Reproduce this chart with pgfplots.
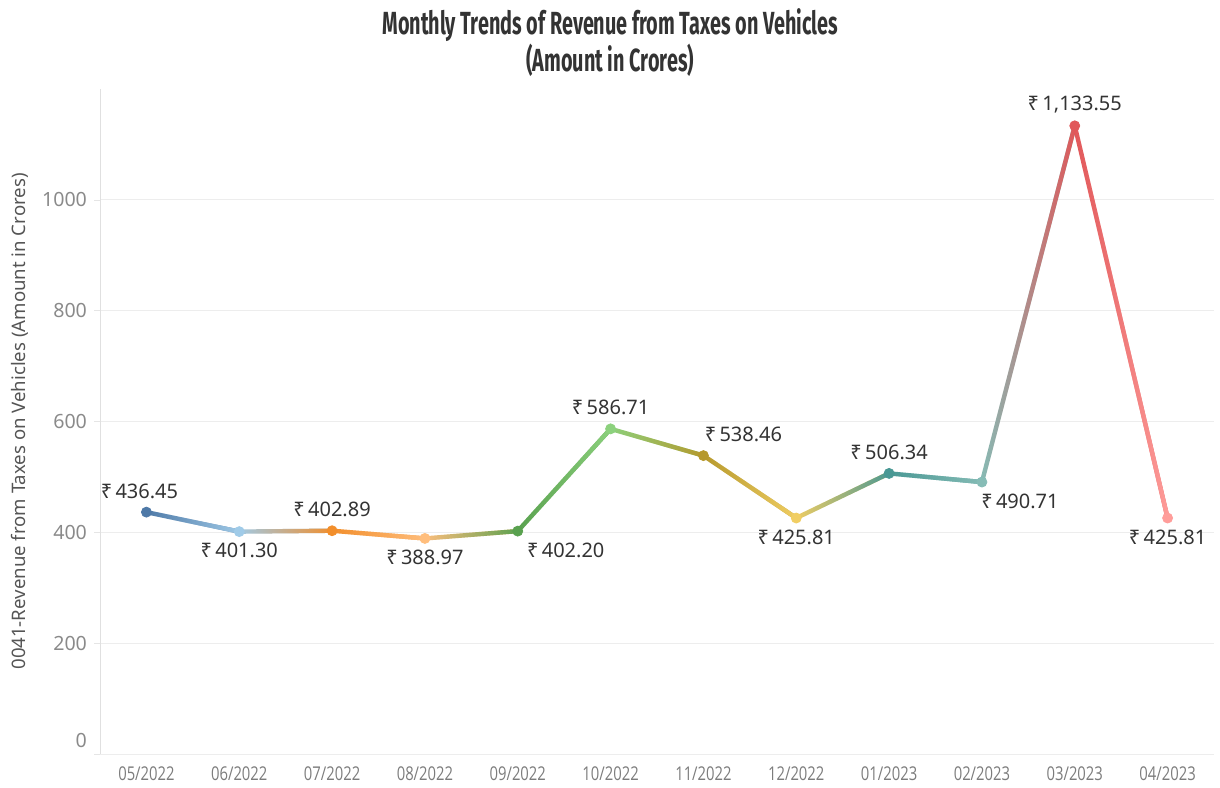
\documentclass[border=0pt]{standalone}
\usepackage{fontspec}
\setmainfont{Noto Sans}
\newfontfamily\titlefont{Fira Sans}[FakeStretch=0.62]
\newfontfamily\condfont{Open Sans}[FakeStretch=0.78]
\usepackage{pgfplots}
\pgfplotsset{compat=1.18}
\usetikzlibrary{fadings}

\definecolor{titlegray}{HTML}{333333}
\definecolor{labgray}{HTML}{555555}
\definecolor{tickgray}{HTML}{8A8A8A}
\definecolor{datagray}{HTML}{333333}
% Tableau 20 palette, one colour per month
\definecolor{c0}{RGB}{78,121,167}
\definecolor{c1}{RGB}{160,203,232}
\definecolor{c2}{RGB}{242,142,43}
\definecolor{c3}{RGB}{255,190,125}
\definecolor{c4}{RGB}{89,161,79}
\definecolor{c5}{RGB}{140,209,125}
\definecolor{c6}{RGB}{182,153,45}
\definecolor{c7}{RGB}{241,206,99}
\definecolor{c8}{RGB}{73,152,148}
\definecolor{c9}{RGB}{134,188,182}
\definecolor{c10}{RGB}{225,87,89}
\definecolor{c11}{RGB}{255,157,154}

% month index, revenue, label offsets (pt)
\pgfplotstableread{
x y dx dy
0 436.45 -3.5 10.5
1 401.30 0 -9.5
2 402.89 0 10.5
3 388.97 0 -9.5
4 402.20 24 -9.5
5 586.71 0 10.5
6 538.46 20 10.5
7 425.81 0 -9.5
8 506.34 0 10.5
9 490.71 19 -9.5
10 1133.55 0 10.5
11 425.81 0 -9.5
}\revdata

% one line segment, colour of month #1 fading into colour of month #2
\newcommand{\seg}[2]{%
  \addplot[draw=c#1, line width=2.2pt, line cap=round, restrict x to domain=#1:#2, forget plot] table[x=x, y=y] {\revdata};
  \addplot[draw=c#2, line width=2.2pt, line cap=round, restrict x to domain=#1:#2, path fading=west, forget plot] table[x=x, y=y] {\revdata};
}

\begin{document}
\begin{tikzpicture}
\path[use as bounding box] (-50pt,-16.5pt) rectangle (560pt,377pt);
\begin{axis}[
    at={(0,0)}, anchor=south west,
    scale only axis,
    width=557pt, height=332.5pt,
    xmin=-0.5, xmax=11.5,
    ymin=0, ymax=1200,
    clip=false,
    axis x line*=bottom, axis y line*=left,
    axis line style={draw=black!12},
    xtick={0,...,11},
    xticklabels={05/2022,06/2022,07/2022,08/2022,09/2022,10/2022,11/2022,12/2022,01/2023,02/2023,03/2023,04/2023},
    xticklabel style={font=\condfont\fontsize{9.5}{11}\selectfont, text=tickgray!90!black},
    x tick style={draw=none},
    extra x ticks={-0.5,0.5,...,11.5},
    extra x tick labels={},
    extra x tick style={major tick length=6pt, tick align=outside, tick style={draw=black!10}},
    ytick={200,400,...,1000},
    extra y ticks={0},
    extra y tick style={yticklabel style={yshift=7pt}},
    yticklabel style={font=\fontsize{9.8}{11}\selectfont, text=tickgray, /pgf/number format/1000 sep={}},
    y tick style={draw=black!10},
    major tick length=3pt, tick align=outside,
    ymajorgrids, major grid style={draw=black!7},
    /pgf/number format/assume math mode=true,
    ylabel={0041-Revenue from Taxes on Vehicles (Amount in Crores)},
    ylabel style={font=\fontsize{9.3}{11}\selectfont, text=labgray, at={(axis description cs:-0.0718,0.5)}, anchor=center},
    colormap={tab}{rgb255(0cm)=(78,121,167) rgb255(1cm)=(160,203,232) rgb255(2cm)=(242,142,43) rgb255(3cm)=(255,190,125) rgb255(4cm)=(89,161,79) rgb255(5cm)=(140,209,125) rgb255(6cm)=(182,153,45) rgb255(7cm)=(241,206,99) rgb255(8cm)=(73,152,148) rgb255(9cm)=(134,188,182) rgb255(10cm)=(225,87,89) rgb255(11cm)=(255,157,154)},
    point meta min=0, point meta max=11,
]
\seg{0}{1}\seg{1}{2}\seg{2}{3}\seg{3}{4}\seg{4}{5}\seg{5}{6}
\seg{6}{7}\seg{7}{8}\seg{8}{9}\seg{9}{10}\seg{10}{11}
\addplot[scatter, only marks, mark=*, mark size=2.5pt, point meta=\thisrow{x},
    scatter/use mapped color={draw=mapped color, fill=mapped color}] table[x=x, y=y] {\revdata};
\addplot[draw=none, mark=none,
    point meta=\thisrow{y},
    visualization depends on={\thisrow{dx} \as \ldx},
    visualization depends on={\thisrow{dy} \as \ldy},
    nodes near coords={₹\,\pgfmathprintnumber[fixed,fixed zerofill,precision=2,1000 sep={,}]{\pgfplotspointmeta}},
    every node near coord/.style={anchor=center, xshift=\ldx pt, yshift=\ldy pt, font=\fontsize{10}{12}\selectfont, text=datagray},
] table[x=x, y=y] {\revdata};
\node[font=\titlefont\bfseries\fontsize{16}{18.5}\selectfont, text=titlegray, align=center]
    at (rel axis cs:0.458,1) [yshift=23.25pt] {Monthly Trends of Revenue from Taxes on Vehicles\\(Amount in Crores)};
\end{axis}
\end{tikzpicture}
\end{document}
